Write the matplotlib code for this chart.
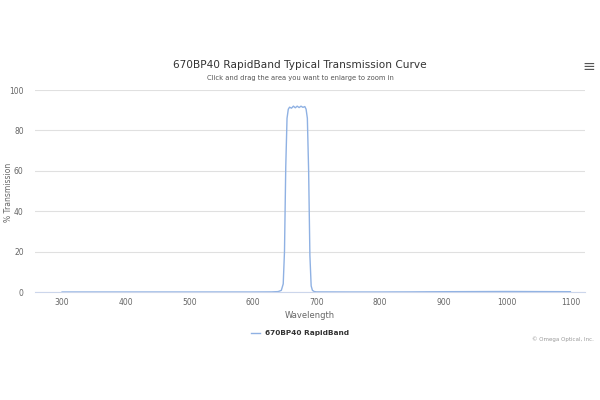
import numpy as np
import matplotlib.pyplot as plt

# wavelength (nm) and % transmission
wavelength = [300, 400, 500, 600, 630, 640, 645, 648, 650, 652, 654, 656, 658,
              661, 664, 667, 670, 673, 676, 679, 682, 684, 686, 688, 690, 692,
              694, 697, 700, 750, 800, 850, 900, 950, 1000, 1050, 1100]
transmission = [0.0, 0.0, 0.0, 0.0, 0.05, 0.2, 0.8, 4, 20, 62, 86, 90.5, 91.5,
                91.0, 92.0, 91.2, 92.0, 91.3, 92.0, 91.4, 91.8, 90.5, 86, 60, 18, 3,
                0.8, 0.2, 0.05, 0.0, 0.0, 0.05, 0.15, 0.2, 0.25, 0.2, 0.15]
series_name = '670BP40 RapidBand'

fig = plt.figure(figsize=(6, 4), dpi=100)
ax = fig.add_axes([0.058, 0.27, 0.917, 0.505])

ax.plot(wavelength, transmission, color='#8fb1e3', lw=1.0, label=series_name)

ax.set_xlim(257, 1123)
ax.set_ylim(0, 100)
ax.set_yticks(np.arange(0, 101, 20))
ax.set_xticks(np.arange(300, 1101, 100))
ax.grid(axis='y', color='#e0e0e0', lw=0.8)
ax.set_axisbelow(True)
for s in ['top', 'right', 'left']:
    ax.spines[s].set_visible(False)
ax.spines['bottom'].set_color('#ccd6eb')
ax.tick_params(axis='both', length=0, labelsize=5.5, colors='#666666')
ax.tick_params(axis='x', pad=4)
ax.tick_params(axis='y', pad=8)
ax.set_xlabel('Wavelength', fontsize=6, color='#666666', labelpad=3)

# y label placed by hand so it sits near the left edge like the original
fig.text(0.014, 0.52, '% Transmission', rotation=90, ha='center', va='center',
         fontsize=5.5, color='#666666')

fig.text(0.5, 0.838, '670BP40 RapidBand Typical Transmission Curve', ha='center', va='center',
         fontsize=7.6, color='#333333')
fig.text(0.5, 0.805, 'Click and drag the area you want to enlarge to zoom in', ha='center',
         va='center', fontsize=4.9, color='#555555')
fig.text(0.982, 0.835, '\u2261', ha='center', va='center', fontsize=11, color='#555555')
fig.text(0.99, 0.152, '\u00a9 Omega Optical, Inc.', ha='right', va='center',
         fontsize=4, color='#999999')

leg = fig.legend(loc='center', bbox_to_anchor=(0.5, 0.167), frameon=False, fontsize=5.3,
                 handlelength=1.2, handletextpad=0.6)
for t in leg.get_texts():
    t.set_color('#333333')
    t.set_fontweight('bold')

plt.savefig('out.png')
